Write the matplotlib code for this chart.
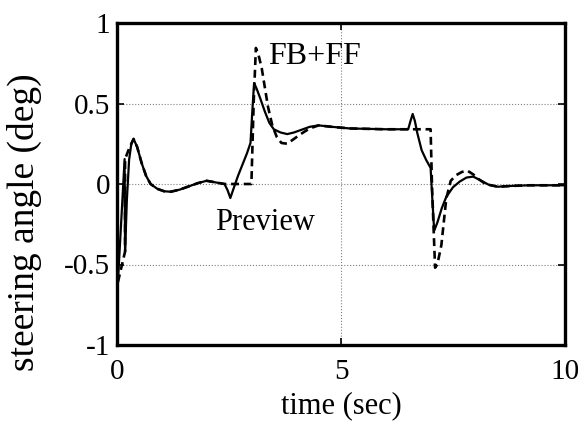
import matplotlib.pyplot as plt
import numpy as np

# solid curve (Preview)
t_prev = [0.02, 0.17, 0.18, 0.22, 0.27, 0.32, 0.37, 0.45, 0.55, 0.65, 0.75, 0.9, 1.05,
          1.2, 1.4, 1.6, 1.8, 2.0, 2.2, 2.4, 2.47, 2.53, 2.6, 2.7, 2.8, 2.9, 2.98,
          3.02, 3.06, 3.12, 3.2, 3.3, 3.4, 3.5, 3.65, 3.8, 3.95, 4.1, 4.3, 4.5, 4.8,
          5.2, 6.0, 6.5, 6.55, 6.6, 6.65, 6.7, 6.8, 6.9, 7.0, 7.04, 7.08, 7.15, 7.25,
          7.35, 7.5, 7.65, 7.8, 7.95, 8.1, 8.3, 8.5, 8.8, 9.2, 10.0]
y_prev = [-0.61, 0.155, -0.42, -0.1, 0.15, 0.25, 0.28, 0.23, 0.13, 0.05, 0.0, -0.03, -0.045,
          -0.048, -0.035, -0.015, 0.005, 0.02, 0.01, 0.0, -0.04, -0.087, -0.03, 0.05, 0.12, 0.19, 0.255,
          0.45, 0.627, 0.59, 0.53, 0.45, 0.38, 0.34, 0.32, 0.31, 0.32, 0.335, 0.355, 0.364, 0.355,
          0.345, 0.34, 0.34, 0.39, 0.435, 0.39, 0.32, 0.21, 0.15, 0.1, -0.1, -0.29, -0.24, -0.15,
          -0.08, -0.02, 0.015, 0.04, 0.046, 0.025, -0.005, -0.017, -0.012, -0.008, -0.008]

# dashed curve (FB+FF)
t_ff = [0.02, 0.18, 0.18, 0.27, 0.37, 0.45, 0.55, 0.65, 0.75, 0.9, 1.05, 1.2, 1.4, 1.6,
        1.8, 2.0, 2.2, 2.4, 3.0, 3.05, 3.1, 3.16, 3.23, 3.3, 3.37, 3.47, 3.57, 3.67,
        3.8, 3.95, 4.1, 4.3, 4.5, 4.8, 5.2, 6.0, 6.5, 7.0, 7.03, 7.07, 7.1, 7.15,
        7.24, 7.35, 7.45, 7.57, 7.7, 7.82, 7.95, 8.05, 8.2, 8.3, 8.5, 8.8, 9.2, 10.0]
y_ff = [-0.61, -0.42, 0.155, 0.22, 0.28, 0.23, 0.13, 0.05, 0.0, -0.03, -0.045, -0.048, -0.035, -0.015,
        0.005, 0.02, 0.01, 0.0, 0.0, 0.5, 0.845, 0.8, 0.72, 0.6, 0.48, 0.36, 0.29, 0.255,
        0.25, 0.28, 0.31, 0.345, 0.364, 0.355, 0.345, 0.34, 0.34, 0.34, 0.0, -0.3, -0.52, -0.5,
        -0.38, -0.09, 0.02, 0.055, 0.075, 0.083, 0.06, 0.035, 0.005, -0.005, -0.017, -0.012, -0.008, -0.008]

plt.rcParams['font.family'] = 'Liberation Serif'

fig = plt.figure(figsize=(5.83, 4.33), dpi=100)
ax = fig.add_axes([117/583, 1 - 345/433, 448/583, 322/433])

ax.plot(t_prev, y_prev, color='black', lw=1.6)
ax.plot(t_ff, y_ff, color='black', lw=1.9, dashes=(3, 1.8))

ax.set_xlim(0, 10)
ax.set_ylim(-1, 1)
ax.set_xticks([0, 5, 10])
ax.set_yticks([-1, -0.5, 0, 0.5, 1])
ax.set_xticklabels(['0', '5', '10'])
ax.set_yticklabels(['-1', '-0.5', '0', '0.5', '1'])
ax.tick_params(direction='in', length=5, width=1.2, labelsize=21,
               top=True, right=True)
ax.tick_params(axis='x', pad=10)
ax.tick_params(axis='y', pad=5)
ax.grid(True, linestyle=':', color='gray', lw=0.8)

for s in ax.spines.values():
    s.set_linewidth(2.4)

ax.set_xlabel('time (sec)', fontsize=22)
ax.set_ylabel('steering angle (deg)', fontsize=27)
ax.xaxis.set_label_coords(0.5, -0.145)
ax.yaxis.set_label_coords(-0.168, 0.382)

ax.text(3.38, 0.79, 'FB+FF', fontsize=23, va='center', ha='left')
ax.text(2.18, -0.24, 'Preview', fontsize=22, va='center', ha='left')

fig.savefig('out.png', dpi=100)
